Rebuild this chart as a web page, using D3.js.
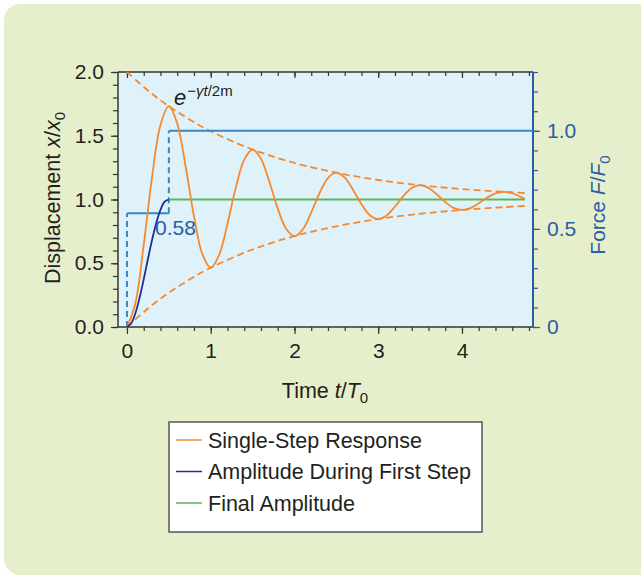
<!DOCTYPE html>
<html><head><meta charset="utf-8">
<script src="https://cdn.jsdelivr.net/npm/d3@7/dist/d3.min.js"></script>
<style>
body{margin:0;background:#fff;}
text{font-family:"Liberation Sans",Arial,Helvetica,sans-serif;}
</style>
</head><body>
<svg id="chart" width="641" height="578"></svg>
<script>
// ---- data ----
const responseTime = [0,0.1,0.2,0.3,0.4,0.5,0.6,0.7,0.8,0.9,1.0,1.1,1.2,1.3,1.4,1.5,1.6,1.7,1.8,1.9,2.0,2.1,2.2,2.3,2.4,2.5,2.6,2.7,2.8,2.9,3.0,3.1,3.2,3.3,3.4,3.5,3.6,3.7,3.8,3.9,4.0,4.1,4.2,4.3,4.4,4.5,4.6,4.7,4.75];
const singleStepResponse = [0,0.185,0.644,1.178,1.584,1.732,1.596,1.261,0.870,0.572,0.465,0.564,0.809,1.095,1.313,1.392,1.319,1.139,0.930,0.771,0.713,0.766,0.898,1.051,1.168,1.210,1.171,1.075,0.963,0.877,0.847,0.875,0.945,1.027,1.090,1.112,1.091,1.040,0.980,0.934,0.918,0.933,0.971,1.015,1.048,1.060,1.049,1.021,1.005];

const firstStepTime = [0,0.05,0.1,0.15,0.2,0.25,0.3,0.35,0.4,0.45,0.5];
const firstStepAmplitude = [0,0.028,0.107,0.227,0.374,0.531,0.683,0.816,0.919,0.983,1.0];

const finalTime = [0.5, 4.75];
const finalAmplitude = [1.0, 1.0];

const envelopeTime = [0,0.25,0.5,0.75,1.0,1.5,2.0,2.5,3.0,3.5,4.0,4.5,4.75];
const envelopeUpper = [2.0,1.855,1.732,1.626,1.535,1.392,1.287,1.210,1.153,1.112,1.082,1.060,1.051];
const envelopeLower = [0.0,0.145,0.268,0.374,0.465,0.608,0.713,0.790,0.847,0.888,0.918,0.940,0.949];

const forceTime  = [0, 0, 0.5, 0.5, 4.848];
const forceValue = [0, 0.58, 0.58, 1.0, 1.0];

const xTickValues = [0,1,2,3,4];
const xTickLabels = ["0","1","2","3","4"];
const yTickValues = [0,0.5,1,1.5,2];
const yTickLabels = ["0.0","0.5","1.0","1.5","2.0"];
const fTickValues = [0,0.5,1];
const fTickLabels = ["0","0.5","1.0"];

const legendLabels = ["Single-Step Response","Amplitude During First Step","Final Amplitude"];
const legendColors = ["#f5892f","#1e2f8f","#5db55a"];

// ---- drawing ----
const svg = d3.select("#chart");
const C = {orange:"#f5892f", navy:"#1e2f8f", green:"#5db55a", force:"#3a86c8", axisBlue:"#2a5ca8", text:"#231f20", axis:"#333"};

svg.append("rect").attr("x",4).attr("y",4).attr("width",680).attr("height",571).attr("rx",16).attr("fill","#e6efcb");

const x = d3.scaleLinear().domain([-0.107,4.848]).range([118,533]);
const y = d3.scaleLinear().domain([0,2]).range([327,72]);
const f = d3.scaleLinear().domain([0,1.3]).range([327,72]);

svg.append("rect").attr("x",118).attr("y",72).attr("width",415).attr("height",255).attr("fill","#dff2fa");

// axes
function styleAxis(g,color){ g.select(".domain").remove(); g.selectAll("line").attr("stroke",color).attr("stroke-width",1.2); }
const xMinor = d3.range(0,4.81,0.2);
svg.append("g").attr("transform","translate(0,327)").call(d3.axisBottom(x).tickValues(xMinor).tickSize(4).tickFormat("")).call(g=>styleAxis(g,C.axis));
svg.append("g").attr("transform","translate(0,327)").call(d3.axisBottom(x).tickValues(xTickValues).tickSize(7).tickPadding(9).tickFormat((d,i)=>xTickLabels[i]))
  .call(g=>{styleAxis(g,C.axis); g.selectAll("text").attr("font-size",21).attr("fill",C.text);});
svg.append("g").attr("transform","translate(0,72)").call(d3.axisTop(x).tickValues(xMinor).tickSize(-4).tickFormat("")).call(g=>styleAxis(g,C.axis));
svg.append("g").attr("transform","translate(0,72)").call(d3.axisTop(x).tickValues(xTickValues).tickSize(-6).tickFormat("")).call(g=>styleAxis(g,C.axis));

const yMinor = d3.range(0,2.01,0.1);
svg.append("g").attr("transform","translate(118,0)").call(d3.axisLeft(y).tickValues(yMinor).tickSize(5).tickFormat("")).call(g=>styleAxis(g,C.axis));
svg.append("g").attr("transform","translate(118,0)").call(d3.axisLeft(y).tickValues(yTickValues).tickSize(7).tickPadding(7).tickFormat((d,i)=>yTickLabels[i]))
  .call(g=>{styleAxis(g,C.axis); g.selectAll("text").attr("font-size",21).attr("fill",C.text);});

const fMinor = d3.range(0,1.301,0.1);
svg.append("g").attr("transform","translate(533,0)").call(d3.axisRight(f).tickValues(fMinor).tickSize(5).tickFormat("")).call(g=>styleAxis(g,C.axisBlue));
svg.append("g").attr("transform","translate(533,0)").call(d3.axisRight(f).tickValues(fTickValues).tickSize(7).tickPadding(7).tickFormat((d,i)=>fTickLabels[i]))
  .call(g=>{styleAxis(g,C.axisBlue); g.selectAll("text").attr("font-size",21).attr("fill",C.axisBlue);});

// frame
svg.append("line").attr("x1",118).attr("x2",533).attr("y1",327).attr("y2",327).attr("stroke",C.axis).attr("stroke-width",1.5);
svg.append("line").attr("x1",118).attr("x2",533).attr("y1",72).attr("y2",72).attr("stroke",C.axis).attr("stroke-width",1.5);
svg.append("line").attr("x1",118).attr("x2",118).attr("y1",72).attr("y2",327).attr("stroke",C.axis).attr("stroke-width",1.5);
svg.append("line").attr("x1",533).attr("x2",533).attr("y1",72).attr("y2",327).attr("stroke",C.axisBlue).attr("stroke-width",2);

// envelopes
const envLine = d3.line().x(d=>x(d[0])).y(d=>y(d[1])).curve(d3.curveCatmullRom);
[envelopeUpper,envelopeLower].forEach(arr=>{
  svg.append("path").attr("d",envLine(envelopeTime.map((t,i)=>[t,arr[i]])))
    .attr("fill","none").attr("stroke",C.orange).attr("stroke-width",1.8).attr("stroke-dasharray","7,4");
});

// force
for(let i=0;i<forceTime.length-1;i++){
  const vertical = forceTime[i]===forceTime[i+1];
  svg.append("line").attr("x1",x(forceTime[i])).attr("x2",x(forceTime[i+1]))
    .attr("y1",f(forceValue[i])).attr("y2",f(forceValue[i+1]))
    .attr("stroke",C.force).attr("stroke-width",2)
    .attr("stroke-dasharray",vertical?"6,4":null);
}

// final amplitude
svg.append("path").attr("d",d3.line().x(d=>x(d[0])).y(d=>y(d[1]))(finalTime.map((t,i)=>[t,finalAmplitude[i]])))
  .attr("fill","none").attr("stroke",C.green).attr("stroke-width",1.8);

// response
const curve = d3.line().x(d=>x(d[0])).y(d=>y(d[1])).curve(d3.curveCatmullRom.alpha(0.5));
svg.append("path").attr("d",curve(responseTime.map((t,i)=>[t,singleStepResponse[i]])))
  .attr("fill","none").attr("stroke",C.orange).attr("stroke-width",1.8);
svg.append("path").attr("d",curve(firstStepTime.map((t,i)=>[t,firstStepAmplitude[i]])))
  .attr("fill","none").attr("stroke",C.navy).attr("stroke-width",1.8);

// annotations
svg.append("text").attr("x",155).attr("y",235).attr("font-size",21).attr("fill",C.axisBlue).text("0.58");
const ann = svg.append("text").attr("x",174).attr("y",105).attr("fill",C.text);
ann.append("tspan").attr("font-size",22).attr("font-style","italic").text("e");
ann.append("tspan").attr("font-size",15).attr("dy",-9).attr("dx",1).text("\u2212");
ann.append("tspan").attr("font-size",15).attr("font-style","italic").text("\u03b3t");
ann.append("tspan").attr("font-size",15).text("/2m");

// axis titles
const yl = svg.append("text").attr("transform","translate(60,198) rotate(-90)").attr("text-anchor","middle").attr("font-size",21.5).attr("fill",C.text);
yl.append("tspan").text("Displacement ");
yl.append("tspan").attr("font-style","italic").text("x");
yl.append("tspan").text("/");
yl.append("tspan").attr("font-style","italic").text("x");
yl.append("tspan").attr("font-size",15).attr("dy",5).text("0");

const xl = svg.append("text").attr("x",325).attr("y",398).attr("text-anchor","middle").attr("font-size",21.5).attr("fill",C.text);
xl.append("tspan").text("Time ");
xl.append("tspan").attr("font-style","italic").text("t");
xl.append("tspan").text("/");
xl.append("tspan").attr("font-style","italic").text("T");
xl.append("tspan").attr("font-size",15).attr("dy",5).text("0");

const fl = svg.append("text").attr("transform","translate(605,205) rotate(-90)").attr("text-anchor","middle").attr("font-size",21).attr("fill",C.axisBlue);
fl.append("tspan").text("Force ");
fl.append("tspan").attr("font-style","italic").text("F");
fl.append("tspan").text("/");
fl.append("tspan").attr("font-style","italic").text("F");
fl.append("tspan").attr("font-size",15).attr("dy",5).text("0");

// legend
svg.append("rect").attr("x",169).attr("y",422).attr("width",313).attr("height",110).attr("fill","#fff").attr("stroke","#555").attr("stroke-width",1.5);
legendLabels.forEach((lab,i)=>{
  const cy = 440 + i*31.5;
  svg.append("line").attr("x1",176).attr("x2",202).attr("y1",cy).attr("y2",cy).attr("stroke",legendColors[i]).attr("stroke-width",1.5);
  svg.append("text").attr("x",208).attr("y",cy).attr("dy","0.35em").attr("font-size",21.5).attr("fill",C.text).text(lab);
});
</script>
</body></html>
